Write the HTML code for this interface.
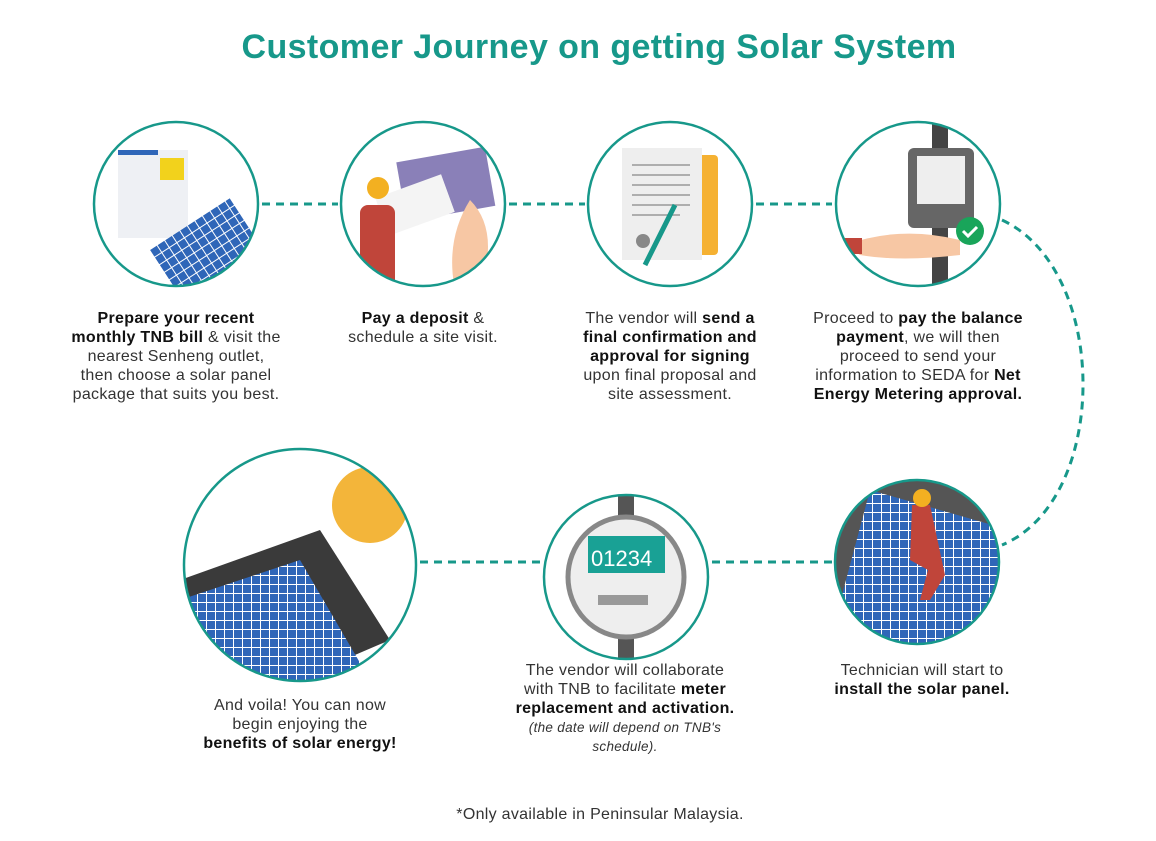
<!DOCTYPE html>
<html><head><meta charset="utf-8"><style>
body{margin:0;width:1156px;height:841px;background:#fff;font-family:"Liberation Sans",sans-serif;color:#222;position:relative;overflow:hidden}
h1{position:absolute;left:0;width:1198px;top:28px;margin:0;text-align:center;font-size:34px;letter-spacing:0.4px;font-weight:bold;color:#17988a}
.t{position:absolute;text-align:center;font-size:16px;letter-spacing:0.3px;line-height:19px;color:#333;white-space:nowrap}
.t b{color:#111}
svg{position:absolute;left:0;top:0}
</style></head><body>
<h1>Customer Journey on getting Solar System</h1>
<svg width="1156" height="841" viewBox="0 0 1156 841">
<defs>
<clipPath id="c1"><circle cx="176" cy="204" r="82"/></clipPath>
<clipPath id="c2"><circle cx="423" cy="204" r="82"/></clipPath>
<clipPath id="c3"><circle cx="670" cy="204" r="82"/></clipPath>
<clipPath id="c4"><circle cx="918" cy="204" r="82"/></clipPath>
<clipPath id="c5"><circle cx="300" cy="565" r="116"/></clipPath>
<clipPath id="c6"><circle cx="626" cy="577" r="82"/></clipPath>
<clipPath id="c7"><circle cx="917" cy="562" r="82"/></clipPath>
<pattern id="pv" width="9" height="9" patternUnits="userSpaceOnUse"><rect width="9" height="9" fill="#fff"/><rect width="8" height="8" fill="#2f66b8"/></pattern>
</defs>
<g stroke="#17988a" stroke-width="3" stroke-dasharray="8 6" fill="none">
<line x1="262" y1="204" x2="338" y2="204"/>
<line x1="509" y1="204" x2="585" y2="204"/>
<line x1="756" y1="204" x2="832" y2="204"/>
<line x1="420" y1="562" x2="540" y2="562"/>
<line x1="712" y1="562" x2="832" y2="562"/>
<path d="M1002 220 C1110 270 1110 500 1002 545"/>
</g>
<g clip-path="url(#c1)">
<rect x="118" y="150" width="70" height="88" fill="#eef0f4"/>
<rect x="118" y="150" width="40" height="5" fill="#2f66b8"/>
<rect x="160" y="158" width="24" height="22" fill="#f2d21c"/>
<g transform="translate(150,250) rotate(-33)"><rect x="0" y="0" width="95" height="58" fill="url(#pv)"/></g>
</g>
<g clip-path="url(#c2)">
<rect x="400" y="155" width="90" height="60" fill="#8a80b8" transform="rotate(-10 440 180)"/>
<rect x="380" y="185" width="70" height="40" fill="#f4f4f4" transform="rotate(-20 415 205)"/>
<path d="M470 200 Q500 230 480 290 L455 290 Q445 240 470 200Z" fill="#f7c7a4"/>
<rect x="360" y="205" width="35" height="90" fill="#c0453a" rx="8"/>
<circle cx="378" cy="188" r="11" fill="#f3b021"/>
</g>
<g clip-path="url(#c3)">
<rect x="660" y="155" width="58" height="100" fill="#f5b132" rx="4"/>
<rect x="622" y="148" width="80" height="112" fill="#eeeeee"/>
<g stroke="#999" stroke-width="1.5"><line x1="632" y1="165" x2="690" y2="165"/><line x1="632" y1="175" x2="690" y2="175"/><line x1="632" y1="185" x2="690" y2="185"/><line x1="632" y1="195" x2="690" y2="195"/><line x1="632" y1="205" x2="690" y2="205"/><line x1="632" y1="215" x2="680" y2="215"/></g>
<circle cx="643" cy="241" r="7" fill="#888"/>
<line x1="645" y1="265" x2="675" y2="205" stroke="#17988a" stroke-width="5"/>
</g>
<g clip-path="url(#c4)">
<rect x="932" y="110" width="16" height="190" fill="#444"/>
<rect x="908" y="148" width="66" height="80" rx="6" fill="#666"/>
<rect x="917" y="156" width="48" height="48" fill="#eee"/>
<path d="M845 245 Q900 225 960 240 L960 255 Q900 262 860 255Z" fill="#f7c7a4"/>
<rect x="842" y="238" width="20" height="16" fill="#c0453a"/>
</g>
<circle cx="970" cy="231" r="14" fill="#19a55a"/>
<path d="M963 231 l5 5 l9 -9" stroke="#fff" stroke-width="3" fill="none"/>
<g clip-path="url(#c5)">
<path d="M180 580 L320 530 L390 640 L250 700Z" fill="#3a3a3a"/>
<path d="M180 600 L300 560 L370 680 L200 700Z" fill="url(#pv)"/>
<circle cx="370" cy="505" r="38" fill="#f3b53a"/>
</g>
<g clip-path="url(#c6)">
<rect x="618" y="490" width="16" height="180" fill="#555"/>
<ellipse cx="626" cy="577" rx="58" ry="60" fill="#eee" stroke="#888" stroke-width="5"/>
<rect x="588" y="536" width="77" height="37" fill="#19a195"/>
<text x="591" y="566" font-size="22" fill="#fff" font-family="Liberation Sans">01234</text>
<rect x="598" y="595" width="50" height="10" fill="#999"/>
</g>
<g clip-path="url(#c7)">
<rect x="830" y="475" width="180" height="180" fill="#555"/>
<path d="M870 490 L1010 530 L980 680 L830 640Z" fill="url(#pv)"/>
<path d="M912 505 L930 505 L945 575 L930 600 L920 600 L928 570 L910 560Z" fill="#c0453a"/>
<circle cx="922" cy="498" r="9" fill="#f3b021"/>
</g>
<g fill="none" stroke="#17988a" stroke-width="2.5">
<circle cx="176" cy="204" r="82"/><circle cx="423" cy="204" r="82"/><circle cx="670" cy="204" r="82"/><circle cx="918" cy="204" r="82"/>
<circle cx="300" cy="565" r="116"/><circle cx="626" cy="577" r="82"/><circle cx="917" cy="562" r="82"/>
</g>
</svg>
<div class="t" style="left:56px;width:240px;top:309px"><b>Prepare your recent</b><br><b>monthly TNB bill</b> &amp; visit the<br>nearest Senheng outlet,<br>then choose a solar panel<br>package that suits you best.</div>
<div class="t" style="left:328px;width:190px;top:309px"><b>Pay a deposit</b> &amp;<br>schedule a site visit.</div>
<div class="t" style="left:555px;width:230px;top:309px">The vendor will <b>send a</b><br><b>final confirmation and</b><br><b>approval for signing</b><br>upon final proposal and<br>site assessment.</div>
<div class="t" style="left:798px;width:240px;top:309px">Proceed to <b>pay the balance</b><br><b>payment</b>, we will then<br>proceed to send your<br>information to SEDA for <b>Net</b><br><b>Energy Metering approval.</b></div>
<div class="t" style="left:180px;width:240px;top:696px">And voila! You can now<br>begin enjoying the<br><b>benefits of solar energy!</b></div>
<div class="t" style="left:505px;width:240px;top:661px">The vendor will collaborate<br>with TNB to facilitate <b>meter</b><br><b>replacement and activation.</b><br><i style="font-size:13.5px">(the date will depend on TNB's<br>schedule).</i></div>
<div class="t" style="left:812px;width:220px;top:661px">Technician will start to<br><b>install the solar panel.</b></div>
<div class="t" style="left:400px;width:400px;top:805px">*Only available in Peninsular Malaysia.</div>
</body></html>
